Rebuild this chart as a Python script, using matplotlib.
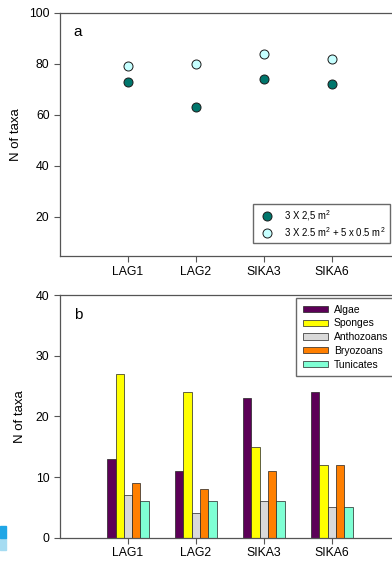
import matplotlib
matplotlib.use("Agg")
import matplotlib.pyplot as plt
from matplotlib.patches import Rectangle
import numpy as np

plt.rcParams['font.family'] = ['Liberation Sans', 'DejaVu Sans']
plt.rcParams['mathtext.fontset'] = 'custom'
plt.rcParams['mathtext.rm'] = 'Liberation Sans'

sites = ["LAG1", "LAG2", "SIKA3", "SIKA6"]

# panel a - number of taxa per sampling effort
taxa_small = [73, 63, 74, 72]
taxa_large = [79, 80, 84, 82]
label_small = "3 X 2,5 m$^2$"
label_large = "3 X 2.5 m$^2$ + 5 x 0.5 m$^2$"

# panel b - taxa per group
groups = ["Algae", "Sponges", "Anthozoans", "Bryozoans", "Tunicates"]
algae = [13, 11, 23, 24]
sponges = [27, 24, 15, 12]
anthozoans = [7, 4, 6, 5]
bryozoans = [9, 8, 11, 12]
tunicates = [6, 6, 6, 5]
group_colors = ["#5c0057", "#ffff00", "#d9d9d9", "#ff7f00", "#7fffd4"]

fig = plt.figure(figsize=(3.92, 5.62), dpi=100)
x = np.arange(1, len(sites) + 1)

# ---- panel a
ax1 = fig.add_axes([0.153, 0.5445, 0.867, 0.4325])
ax1.plot(x, taxa_small, "o", ms=6.5, mfc="#00766c", mec="#1a1a1a", mew=0.7, label=label_small)
ax1.plot(x, taxa_large, "o", ms=6.5, mfc="#c6ffff", mec="#1a1a1a", mew=0.7, label=label_large)
ax1.set_xlim(0, 5)
ax1.set_ylim(4.5, 100)
ax1.set_yticks([20, 40, 60, 80, 100])
ax1.set_xticks(x)
ax1.set_xticklabels(sites)
ax1.set_ylabel("N of taxa", fontsize=9.5, labelpad=5)
ax1.text(0.2, 91, "a", fontsize=11)
ax1.legend(loc="upper left", bbox_to_anchor=(0.645, 0.637), bbox_transform=fig.transFigure,
           fontsize=6.9, frameon=True, fancybox=False, edgecolor="#444444",
           handletextpad=0.8, borderpad=0.45, labelspacing=0.2, borderaxespad=0)

# ---- panel b
ax2 = fig.add_axes([0.153, 0.0432, 0.867, 0.4318])
w = 0.122
series = [algae, sponges, anthozoans, bryozoans, tunicates]
for i, (name, vals, col) in enumerate(zip(groups, series, group_colors)):
    ax2.bar(x + (i - 2) * w, vals, width=w, color=col, edgecolor="#222222", lw=0.5, label=name)
ax2.set_xlim(0, 5)
ax2.set_ylim(0, 40)
ax2.set_yticks([0, 10, 20, 30, 40])
ax2.set_xticks(x)
ax2.set_xticklabels(sites)
ax2.set_ylabel("N of taxa", fontsize=9.5, labelpad=7)
ax2.text(0.2, 36, "b", fontsize=11)
ax2.legend(loc="upper left", bbox_to_anchor=(0.755, 0.470), bbox_transform=fig.transFigure,
           fontsize=7.5, frameon=True, fancybox=False, edgecolor="#444444",
           handlelength=2.4, handleheight=0.55, handletextpad=0.6, borderpad=0.65,
           labelspacing=0.36, borderaxespad=0)

for ax in (ax1, ax2):
    for s in ax.spines.values():
        s.set_color("#555555")
        s.set_linewidth(0.9)
    ax.tick_params(direction="out", length=4, width=0.8, color="#555555", labelsize=8.8)
    ax.tick_params(axis="x", pad=3)

# small blue artifact at bottom-left edge
fig.patches.append(Rectangle((0, 0.021), 0.015, 0.022, transform=fig.transFigure,
                             color="#a6dcf2", figure=fig))
fig.patches.append(Rectangle((0, 0.043), 0.015, 0.021, transform=fig.transFigure,
                             color="#1fa6e6", figure=fig))

fig.savefig("out.png", dpi=100)
